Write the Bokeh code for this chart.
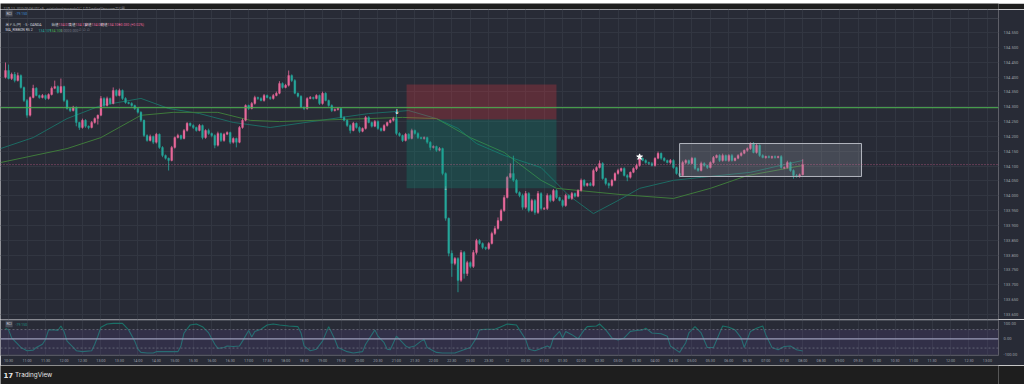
import numpy as np
from bokeh.plotting import figure
from bokeh.layouts import column
from bokeh.models import Range1d, FixedTicker, PrintfTickFormatter, Span, Label, BoxAnnotation, ColumnDataSource
from bokeh.core.properties import value
from bokeh.embed import file_html
from bokeh.resources import INLINE

# ---------------- data (USD/JPY 5 min, OANDA) ----------------
first_open = 134.399
close_prices = [
    134.422, 134.395, 134.409, 134.388, 134.405, 134.365, 134.321, 134.271, 134.331, 134.362,
    134.338, 134.331, 134.338, 134.328, 134.341, 134.362, 134.368, 134.348, 134.368, 134.321,
    134.294, 134.287, 134.298, 134.247, 134.230, 134.254, 134.234, 134.230, 134.247, 134.260,
    134.271, 134.328, 134.304, 134.328, 134.311, 134.355, 134.338, 134.355, 134.328, 134.314,
    134.311, 134.304, 134.294, 134.281, 134.254, 134.203, 134.186, 134.200, 134.180, 134.207,
    134.163, 134.136, 134.126, 134.119, 134.163, 134.196, 134.203, 134.193, 134.220, 134.244,
    134.237, 134.230, 134.220, 134.237, 134.196, 134.220, 134.210, 134.203, 134.170, 134.210,
    134.186, 134.207, 134.213, 134.180, 134.193, 134.180, 134.230, 134.254, 134.304, 134.294,
    134.311, 134.331, 134.328, 134.321, 134.338, 134.331, 134.328, 134.338, 134.345,
    134.378, 134.365, 134.372, 134.405, 134.388, 134.345, 134.335, 134.298, 134.294, 134.328,
    134.331, 134.328, 134.338, 134.311, 134.345, 134.321, 134.304, 134.287, 134.291, 134.294,
    134.264, 134.254, 134.237, 134.220, 134.244, 134.230, 134.217, 134.227, 134.264, 134.247,
    134.234, 134.250, 134.227, 134.220, 134.237, 134.247, 134.254, 134.260, 134.210, 134.203,
    134.186, 134.207, 134.193, 134.220, 134.210, 134.196, 134.193, 134.196, 134.180, 134.163,
    134.166, 134.153, 134.159, 134.075, 133.924, 133.806, 133.772, 133.789, 133.715, 133.809,
    133.738, 133.775, 133.762, 133.809, 133.849, 133.839, 133.826, 133.822, 133.839, 133.873,
    133.890, 133.917, 133.950, 133.994, 134.062, 134.075, 134.052, 134.011, 134.001, 133.961,
    134.008, 133.950, 133.984, 133.944, 134.008, 133.957, 133.957, 134.001, 133.984,
    134.018, 133.994, 133.984, 133.967, 134.001, 133.991, 134.008, 133.998, 134.018, 134.052,
    134.035, 134.041, 134.035, 134.085, 134.095, 134.109, 134.058, 134.041, 134.035, 134.052,
    134.075, 134.085, 134.092, 134.068, 134.062, 134.079, 134.092, 134.102, 134.126, 134.119,
    134.112, 134.109, 134.102, 134.126, 134.143, 134.126, 134.119, 134.112, 134.119, 134.095,
    134.075, 134.068, 134.112, 134.119, 134.109, 134.126, 134.092, 134.085, 134.109, 134.102,
    134.095, 134.112, 134.129, 134.136, 134.119, 134.136, 134.119, 134.136, 134.119, 134.126,
    134.136, 134.143, 134.153, 134.159, 134.176, 134.146, 134.170, 134.136, 134.129, 134.132,
    134.129, 134.132, 134.129, 134.132, 134.095, 134.095, 134.112, 134.085, 134.068, 134.065,
    134.071, 134.105,
]
# wick extents beyond the body, in 0.001 JPY
wick_hi = [
    27, 20, 6, 8, 10, 4, 3, 5, 4, 12,
    4, 3, 5, 3, 4, 6, 20, 4, 27, 3,
    4, 3, 5, 3, 2, 6, 4, 3, 5, 4,
    3, 8, 4, 6, 3, 10, 4, 6, 3, 4,
    3, 4, 3, 3, 4, 3, 4, 6, 3, 5,
    3, 4, 3, 3, 5, 4, 6, 3, 5, 4,
    3, 4, 3, 5, 3, 4, 6, 3, 4, 6,
    3, 5, 4, 3, 4, 3, 5, 6, 4, 3,
    5, 6, 3, 4, 5, 3, 4, 5, 6,
    8, 4, 5, 17, 4, 5, 3, 4, 3, 4,
    5, 3, 4, 3, 6, 4, 3, 4, 3, 4,
    3, 4, 3, 4, 5, 3, 4, 3, 5, 4,
    3, 5, 4, 3, 4, 3, 4, 6, 30, 4,
    3, 5, 4, 6, 3, 4, 3, 4, 3, 4,
    4, 3, 5, 3, 4, 3, 10, 5, 4, 8,
    5, 6, 4, 8, 6, 5, 4, 3, 5, 6,
    8, 10, 6, 8, 5, 34, 60, 5, 4, 6,
    8, 4, 6, 5, 8, 4, 5, 7, 4,
    5, 4, 3, 4, 6, 4, 5, 3, 4, 6,
    4, 3, 5, 6, 4, 10, 4, 3, 4, 5,
    4, 6, 3, 4, 5, 3, 4, 6, 5, 3,
    4, 3, 5, 4, 6, 3, 4, 3, 5, 4,
    3, 4, 6, 4, 3, 5, 4, 3, 6, 4,
    3, 4, 5, 3, 4, 6, 3, 4, 5, 3,
    4, 5, 3, 4, 4, 5, 6, 3, 4, 3,
    4, 3, 4, 3, 5, 4, 6, 3, 4, 5,
    4, 18,
]
wick_lo = [
    4, 3, 5, 6, 3, 4, 5, 8, 4, 3,
    3, 4, 3, 5, 4, 3, 3, 4, 3, 5,
    4, 5, 3, 13, 8, 4, 5, 6, 3, 4,
    20, 3, 5, 3, 4, 3, 4, 3, 5, 4,
    3, 4, 5, 4, 6, 5, 4, 3, 6, 4,
    5, 6, 4, 34, 3, 4, 3, 5, 3, 4,
    4, 5, 4, 3, 6, 4, 5, 6, 10, 4,
    5, 4, 3, 6, 4, 17, 3, 4, 3, 5,
    3, 4, 5, 3, 4, 3, 5, 4, 3,
    3, 4, 3, 4, 5, 3, 4, 3, 5, 4,
    3, 4, 3, 5, 4, 3, 4, 5, 3, 4,
    4, 3, 5, 10, 3, 4, 5, 3, 4, 3,
    4, 3, 5, 4, 3, 4, 3, 4, 6, 4,
    5, 3, 4, 3, 4, 5, 3, 4, 5, 10,
    4, 5, 3, 6, 8, 10, 45, 6, 40, 5,
    17, 8, 6, 5, 7, 4, 6, 5, 4, 3,
    5, 4, 3, 4, 3, 4, 5, 4, 6, 8,
    5, 6, 4, 8, 5, 6, 4, 5, 6,
    4, 5, 3, 6, 4, 3, 5, 4, 3, 4,
    5, 4, 3, 4, 5, 3, 4, 6, 10, 4,
    3, 4, 5, 3, 13, 4, 3, 5, 4, 3,
    4, 5, 3, 4, 3, 5, 4, 3, 5, 4,
    4, 6, 3, 5, 4, 3, 5, 4, 3, 4,
    5, 3, 4, 3, 5, 4, 3, 5, 4, 3,
    3, 4, 3, 5, 4, 3, 4, 5, 3, 4,
    3, 5, 4, 3, 4, 5, 3, 4, 10, 4,
    4, 2,
]

# MA ribbon (x = bar number)
ma_fast_idx = [-1.6, 9, 20, 31, 44, 53, 63, 74, 86, 118, 131, 140, 147, 153, 162, 174, 183, 191, 199, 206, 217, 226, 242, 259]
ma_fast_val = [134.159, 134.196, 134.260, 134.304, 134.328, 134.294, 134.277, 134.247, 134.230, 134.277, 134.287, 134.260,
               134.227, 134.176, 134.136, 134.095, 134.001, 133.940, 133.984, 134.025, 134.052, 134.062, 134.079, 134.119]
ma_slow_idx = [-1.6, 20, 31, 44, 54.5, 69, 79.5, 89, 129, 140, 151, 162, 174, 179, 200, 217, 229, 241, 259]
ma_slow_val = [134.112, 134.159, 134.196, 134.271, 134.281, 134.281, 134.254, 134.250, 134.264, 134.260, 134.196,
               134.146, 134.052, 134.025, 134.004, 133.991, 134.025, 134.068, 134.102]

# RCI
rci_idx = [0, 1, 2, 4, 5, 7, 9, 10, 12, 13, 14, 16, 17, 18, 19, 20, 22, 23, 25, 28, 29, 30, 31, 33, 35, 38, 40, 42, 43, 44,
           46, 48, 49, 51, 56, 57, 58, 60, 62, 64, 66, 68, 69, 71, 72, 74, 76, 77, 79, 80, 81, 83, 85, 87, 89, 92, 95, 96, 97, 99,
           101, 103, 105, 107, 108, 111, 113, 116, 117, 120, 121, 123, 124, 125, 127, 128, 130, 131, 133, 135,
           136, 137, 140, 142, 146, 148, 151, 153, 154, 156, 159, 161, 163, 166, 167, 169, 170, 172, 174, 176,
           177, 178, 180, 181, 182, 184, 186, 188, 189, 192, 193, 195, 197, 199, 201, 203, 205, 207, 208, 210,
           213, 215, 216, 219, 221, 222, 224, 226, 228, 230, 232, 233, 235, 237, 239, 240, 242, 244, 246, 247,
           249, 251, 253, 255, 257, 259]
rci_val = [69, 58, 6, -35, -56, -77, -73, -56, -35, -4, 58, 58, 54, 83, 48, -15, -56, -77, -83, -77, -35, 17, 75, 96, 100, 100, 58, -15, -67, -88,
           -92, -92, -83, -83, -83, -46, 38, 90, 96, 79, 38, -35, -62, -56, -46, -50, -46, -15, 54, 12, 48, 62, 90, 96, 90, 83, 79, 38, -46, -77,
           -67, -15, 79, -4, -56, -83, -92, -83, -35, 58, 17, -25, -67, -71, 17, -4, -46, -56, -46, -15,
           -4, -56, -88, -92, -92, -77, -56, 6, 58, 62, 62, 79, 96, 90, 58, -4, -67, -77, -62, -46,
           -56, 6, 48, 6, 48, 27, 0, 58, 79, 83, 96, 58, 6, -8, 6, 48, 54, 58, 69, 38,
           33, 17, -46, -88, -25, 38, 79, 38, -56, -56, 38, 83, 75, 58, 6, -56, 48, 69, 83, 27,
           -56, -71, -50, -46, -71, -79]
rci_band = 60

# drawings
green_level = 134.297
pos_start, pos_end = 130.3, 179.0
pos_stop, pos_entry, pos_target = 134.375, 134.257, 134.025
box_start, box_end = 219.0, 278.1
box_top, box_bottom = 134.176, 134.065
last_price = 134.105

time_labels = ["10:30", "11:00", "11:30", "12:00", "12:30", "13:00", "13:30", "14:00", "14:30", "15:00",
               "15:30", "16:00", "16:30", "17:00", "17:30", "18:00", "18:30", "19:00", "19:30", "20:00",
               "20:30", "21:00", "21:30", "22:00", "22:30", "23:00", "23:30", "12", "00:30", "01:00",
               "01:30", "02:00", "02:30", "03:00", "03:30", "04:00", "04:30", "05:00", "05:30", "06:00",
               "06:30", "07:00", "07:30", "08:00", "08:30", "09:00", "09:30", "10:00", "10:30", "11:00",
               "11:30", "12:00", "12:30", "13:00"]

# ---------------- styling ----------------
BG = "#282b36"
DARK = "#1e1e1e"
GRID = "#323641"
UP = "#e8689a"
DN = "#26a69a"
TXT = "#d1d4dc"
AX = "#9da0a8"
JP = "Noto Sans CJK JP"
LS = "3.5px"

X0, X1 = -1.624, 322.6
Y0, Y1 = 133.5832, 134.6275


def fx(px):
    return X0 + px * (X1 - X0) / 998.0


def fy(py):
    return Y1 - (py - 9) * (Y1 - Y0) / 310.0


def ry(py):
    return 125.2 - (py - 319) * 233.2 / 37.0


n = len(close_prices)
idx = np.arange(n)
c = np.array(close_prices)
o = np.concatenate([[first_open], c[:-1]])
hi = np.maximum(o, c) + np.array(wick_hi[:n]) * 0.001
lo = np.minimum(o, c) - np.array(wick_lo[:n]) * 0.001
top = np.maximum(o, c)
bot = np.minimum(o, c)
bot = np.where(top - bot < 0.002, top - 0.002, bot)
colors = [UP if cc >= oo else DN for cc, oo in zip(c, o)]
src = ColumnDataSource(dict(x=idx, hi=hi, lo=lo, top=top, bot=bot, col=colors))

tick_idx = [1 + 6 * k for k in range(len(time_labels))]
price_ticks = [round(133.60 + 0.05 * k, 3) for k in range(20)]


def plain(h, bg):
    f = figure(width=1024, height=h, x_range=Range1d(0, 1024), y_range=Range1d(h, 0),
               x_axis_location=None, y_axis_location=None, output_backend="svg", toolbar_location=None,
               min_border=0, background_fill_color=bg, border_fill_color=bg, outline_line_color=None)
    f.xgrid.visible = False
    f.ygrid.visible = False
    return f


# ---------------- header strip ----------------
header = plain(9, DARK)
header.text(x=[3], y=[4.5], text=["11月 12, 2025 08:04 UTC+9、cristinbookerpanda1によりTradingView.comで公開"],
            text_color="#8f9097", text_font_size="3.3px", text_baseline="middle", text_font=value(JP))

# ---------------- main pane ----------------
main = figure(width=1024, height=310, x_range=Range1d(X0, X1), y_range=Range1d(Y0, Y1),
              x_axis_location=None, y_axis_location="right", output_backend="svg", toolbar_location=None,
              min_border_left=0, min_border_right=26, min_border_top=0, min_border_bottom=0,
              background_fill_color=BG, border_fill_color=BG, outline_line_color=None)
ya = main.yaxis[0]
ya.ticker = FixedTicker(ticks=price_ticks)
ya.formatter = PrintfTickFormatter(format="%.3f")
ya.major_label_text_font_size = "4.1px"
ya.major_label_text_color = AX
ya.major_label_text_font = "Roboto"
ya.axis_line_color = None
ya.major_tick_line_color = None
ya.minor_tick_line_color = None
ya.major_tick_out = 0
ya.major_tick_in = 0
ya.major_label_standoff = 5
main.ygrid.ticker = FixedTicker(ticks=price_ticks)
main.ygrid.grid_line_color = GRID
main.xgrid.ticker = FixedTicker(ticks=tick_idx)
main.xgrid.grid_line_color = GRID

main.add_layout(Span(location=fy(18), dimension="width", line_color="#3c404b", line_width=1))

# MA ribbon
main.line(ma_fast_idx, ma_fast_val, line_color="#1d6b63", line_width=1.0)
main.line(ma_slow_idx, ma_slow_val, line_color="#3f7a3b", line_width=1.0)

# candles
main.segment(x0="x", y0="lo", x1="x", y1="hi", line_color="col", line_width=0.8, source=src)
main.vbar(x="x", width=0.62, top="top", bottom="bot", fill_color="col", line_color="col", line_width=0.3, source=src)

# short position tool
main.quad(left=[pos_start], right=[pos_end], bottom=[pos_entry], top=[pos_stop],
          fill_color="#f23645", fill_alpha=0.25, line_color=None)
main.quad(left=[pos_start], right=[pos_end], bottom=[pos_target], top=[pos_entry],
          fill_color="#089981", fill_alpha=0.25, line_color=None)
# rectangle
main.quad(left=[box_start], right=[box_end], bottom=[box_bottom], top=[box_top],
          fill_color="#9598a1", fill_alpha=0.28, line_color="#b2b5be", line_width=1)

main.add_layout(Span(location=green_level, dimension="width", line_color="#4caf50", line_width=1.3, line_alpha=0.85))
main.add_layout(Span(location=last_price, dimension="width", line_color=UP, line_width=0.8, line_dash="1 2", line_alpha=0.8))

# markers
main.text(x=[127.2], y=[134.283], text=["↓"], text_color="white", text_font_size="7px",
          text_align="center", text_baseline="middle", text_font=value("DejaVu Sans"))
main.text(x=[143.0], y=[pos_target], text=["↓"], text_color="#b2b5be", text_font_size="5px",
          text_align="center", text_baseline="middle", text_font=value("DejaVu Sans"))
main.scatter(x=[206], y=[134.131], marker="star", size=6, fill_color="white", line_color="white")


def legend_row(fig, ypos, parts, size=LS):
    for t, colr, px, fnt in parts:
        fig.text(x=[fx(px)], y=[ypos], text=[t], text_color=colr, text_font_size=size,
                 text_baseline="middle", text_align="left", text_font=value(fnt))


def tag_box(fig, px, ypos, text):
    fig.add_layout(Label(x=fx(px), y=ypos, text=text, text_font_size="3.3px", text_color=TXT,
                         text_baseline="middle", text_align="left", text_font="Roboto",
                         background_fill_color="#4a4e5a", padding=1))


R = "Roboto"
tag_box(main, 5, fy(13), "RCI")
legend_row(main, fy(13), [("-79.150", "#3d8fd6", 15, R)])
legend_row(main, fy(24), [("米ドル/円", TXT, 5, JP), ("· 5 · OANDA", TXT, 23, R),
                          ("始値", TXT, 51, JP), ("134.071", UP, 58, R),
                          ("高値", TXT, 68, JP), ("134.123", UP, 75, R),
                          ("安値", TXT, 84, JP), ("134.069", UP, 91, R),
                          ("終値", TXT, 100, JP), ("134.105", UP, 107, R),
                          ("+0.030 (+0.02%)", UP, 118, R)])
legend_row(main, fy(29.5), [("MA_RIBBON RS 2", TXT, 5, R), ("134.109", "#26a69a", 38, R),
                            ("134.105", "#4caf50", 49, R), ("0.000", "#787b86", 60, R),
                            ("0.000", "#787b86", 69, R), ("∅ ∅ ∅", "#787b86", 78, "DejaVu Sans")])


def axis_tag(fig, yv, text, bg, fg="white"):
    fig.add_layout(Label(x=X1, y=yv, text=text, text_font_size="4.1px", text_color=fg,
                         text_baseline="middle", text_align="left", text_font="Roboto", x_offset=1,
                         background_fill_color=bg, padding=1))


axis_tag(main, fy(23), "JPY", "#1b1e27")
axis_tag(main, pos_stop, "134.375", "#f23645")
axis_tag(main, green_level, "134.297", "#4caf50")
axis_tag(main, pos_entry, "134.257", "#5d606b")
axis_tag(main, fy(161.5), "134.116", "#f23645")
axis_tag(main, fy(166.5), "134.105", "#f0f0f0", "#131722")
axis_tag(main, fy(171), "00:55", "#f0f0f0", "#131722")
axis_tag(main, box_bottom, "134.065", "#2962ff")
axis_tag(main, pos_target, "134.025", "#089981")

# ---------------- RCI pane ----------------
rci = figure(width=1024, height=46, x_range=main.x_range, y_range=Range1d(-108, 125.2),
             y_axis_location="right", output_backend="svg", toolbar_location=None,
             min_border_left=0, min_border_right=26, min_border_top=0, min_border_bottom=9,
             background_fill_color=BG, border_fill_color=BG, outline_line_color=None)
xa = rci.xaxis[0]
xa.ticker = FixedTicker(ticks=tick_idx)
xa.major_label_overrides = {t: l for t, l in zip(tick_idx, time_labels)}
xa.major_label_text_font_size = "3.7px"
xa.major_label_text_color = AX
xa.major_label_text_font = "Roboto"
xa.axis_line_color = None
xa.major_tick_line_color = None
xa.minor_tick_line_color = None
xa.major_tick_out = 0
xa.major_tick_in = 0
xa.major_label_standoff = 3
ra = rci.yaxis[0]
ra.ticker = FixedTicker(ticks=[-100, 0, 100])
ra.formatter = PrintfTickFormatter(format="%.2f")
ra.major_label_text_font_size = "4.1px"
ra.major_label_text_color = AX
ra.major_label_text_font = "Roboto"
ra.axis_line_color = None
ra.major_tick_line_color = None
ra.minor_tick_line_color = None
ra.major_tick_out = 0
ra.major_tick_in = 0
ra.major_label_standoff = 5
rci.ygrid.grid_line_color = None
rci.xgrid.ticker = FixedTicker(ticks=tick_idx)
rci.xgrid.grid_line_color = GRID

rci.add_layout(BoxAnnotation(top=rci_band, fill_color="#7e57c2", fill_alpha=0.13, line_color=None))
rci.add_layout(Span(location=rci_band, dimension="width", line_color="#6f7280", line_dash="2 2", line_width=0.8))
rci.add_layout(Span(location=-rci_band, dimension="width", line_color="#6f7280", line_dash="2 2", line_width=0.8))
rci.add_layout(Span(location=0, dimension="width", line_color="#9a9bb8", line_width=1.2))
rci.add_layout(Span(location=ry(319.5), dimension="width", line_color="#6a6d78", line_width=1))
rci.add_layout(Span(location=ry(355.6), dimension="width", line_color="#434651", line_width=1))
rci.line(rci_idx, rci_val, line_color="#1b7168", line_width=1.1)
tag_box(rci, 5, ry(324), "RCI")
legend_row(rci, ry(324), [("-79.150", "#1f8f82", 15, R)])

# ---------------- footer ----------------
footer = plain(19, DARK)
footer.text(x=[3], y=[9.5], text=["17"], text_color="#e6e6e6", text_font_size="7px",
            text_font_style="bold", text_baseline="middle", text_font=value("DejaVu Sans"))
footer.text(x=[15], y=[9.5], text=["TradingView"], text_color="#e6e6e6", text_font_size="6.3px",
            text_baseline="middle", text_font=value("Inter"))

layout = column(header, main, rci, footer, spacing=0)
open("out.html", "w").write(file_html(layout, INLINE, title="USDJPY 5"))
